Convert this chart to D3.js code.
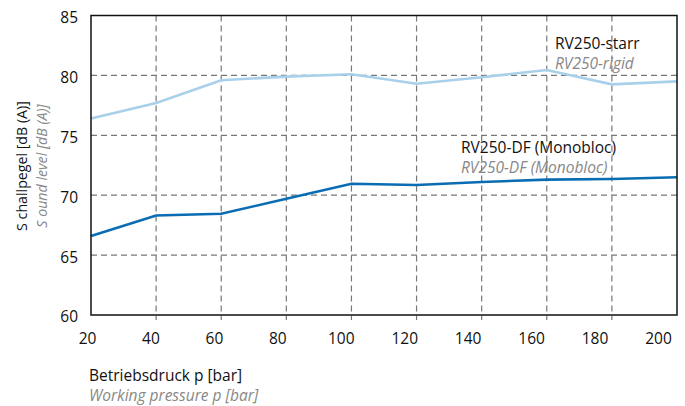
<!DOCTYPE html>
<html>
<head>
<meta charset="utf-8">
<script src="https://cdn.jsdelivr.net/npm/d3@7"></script>
<style>
  body { margin: 0; background: #fff; }
  text { font-family: "Open Sans", sans-serif; }
</style>
</head>
<body>
<svg id="chart"></svg>
<script>
// Datos
const druck = [20, 40, 60, 80, 100, 120, 140, 160, 180, 200];
const starr = [76.4, 77.7, 79.6, 79.9, 80.1, 79.3, 79.85, 80.45, 79.25, 79.5];
const monobloc = [66.6, 68.3, 68.45, 69.7, 70.95, 70.85, 71.1, 71.3, 71.35, 71.5];
const yTicks = [60, 65, 70, 75, 80, 85];

const width = 685, height = 406;
const margin = { top: 15.5, right: 8, bottom: 91, left: 91 };
const fs = 15.5;

const svg = d3.select("#chart")
    .attr("width", width)
    .attr("height", height);

// Escalas
const x = d3.scaleLinear().domain([20, 200]).range([margin.left, width - margin.right]);
const xLabel = d3.scaleLinear().domain([20, 200]).range([87, 658]); // las etiquetas no coinciden con la rejilla
const y = d3.scaleLinear().domain([60, 85]).range([height - margin.bottom, margin.top]);

// Textos de las series (debajo de la rejilla)
const etiquetas = svg.append("g").attr("font-size", fs);
etiquetas.append("text").attr("x", 555).attr("y", 49).attr("fill", "#111").text("RV250-starr");
etiquetas.append("text").attr("x", 555).attr("y", 69).attr("fill", "#888").attr("font-style", "italic").text("RV250-rigid");
etiquetas.append("text").attr("x", 461).attr("y", 153).attr("fill", "#111").text("RV250-DF (Monobloc)");
etiquetas.append("text").attr("x", 461).attr("y", 173).attr("fill", "#888").attr("font-style", "italic").text("RV250-DF (Monobloc)");

// Rejilla
const grid = svg.append("g")
    .attr("stroke", "#777")
    .attr("stroke-width", 1.2)
    .attr("stroke-dasharray", "6,4");

grid.selectAll(".vx")
    .data(druck.slice(1, -1))
  .join("line")
    .attr("x1", d => x(d)).attr("x2", d => x(d))
    .attr("y1", y(85)).attr("y2", y(60) + 5);

grid.selectAll(".hy")
    .data(yTicks.slice(1, -1))
  .join("line")
    .attr("x1", x(20)).attr("x2", x(200))
    .attr("y1", d => y(d)).attr("y2", d => y(d));

// Ejes (solo etiquetas)
const ax = svg.append("g")
    .attr("transform", `translate(0, ${y(60)})`)
    .call(d3.axisBottom(xLabel).tickValues(druck).tickSize(0).tickPadding(18));
ax.select(".domain").remove();
ax.selectAll("text").attr("font-size", fs).attr("fill", "#111").attr("font-family", "Open Sans, sans-serif");

const ay = svg.append("g")
    .attr("transform", `translate(${margin.left}, 0)`)
    .call(d3.axisLeft(y).tickValues(yTicks).tickSize(0).tickPadding(13));
ay.select(".domain").remove();
ay.selectAll("text").attr("font-size", fs).attr("fill", "#111").attr("dy", "0.45em").attr("font-family", "Open Sans, sans-serif");

// Líneas
const line = d3.line()
    .x((d, i) => x(druck[i]))
    .y(d => y(d));

svg.append("path")
    .datum(starr)
    .attr("fill", "none")
    .attr("stroke", "#a9d0ea")
    .attr("stroke-width", 2.6)
    .attr("d", line);

svg.append("path")
    .datum(monobloc)
    .attr("fill", "none")
    .attr("stroke", "#0a6db4")
    .attr("stroke-width", 2.6)
    .attr("d", line);

// Marco
svg.append("rect")
    .attr("x", x(20)).attr("y", y(85))
    .attr("width", x(200) - x(20)).attr("height", y(60) - y(85))
    .attr("fill", "none")
    .attr("stroke", "#111")
    .attr("stroke-width", 1.5);

// Títulos de ejes
svg.append("text").attr("x", 89).attr("y", 381).attr("font-size", fs).attr("fill", "#111")
    .text("Betriebsdruck p [bar]");
svg.append("text").attr("x", 89).attr("y", 401).attr("font-size", fs).attr("fill", "#888").attr("font-style", "italic")
    .text("Working pressure p [bar]");

svg.append("text").attr("transform", "translate(27, 166) rotate(-90)").attr("text-anchor", "middle")
    .attr("font-size", 14.2).attr("fill", "#111").text("S challpegel [dB (A)]");
svg.append("text").attr("transform", "translate(47, 166) rotate(-90)").attr("text-anchor", "middle")
    .attr("font-size", 14.2).attr("fill", "#888").attr("font-style", "italic").text("S ound level [dB (A)]");
</script>
</body>
</html>
